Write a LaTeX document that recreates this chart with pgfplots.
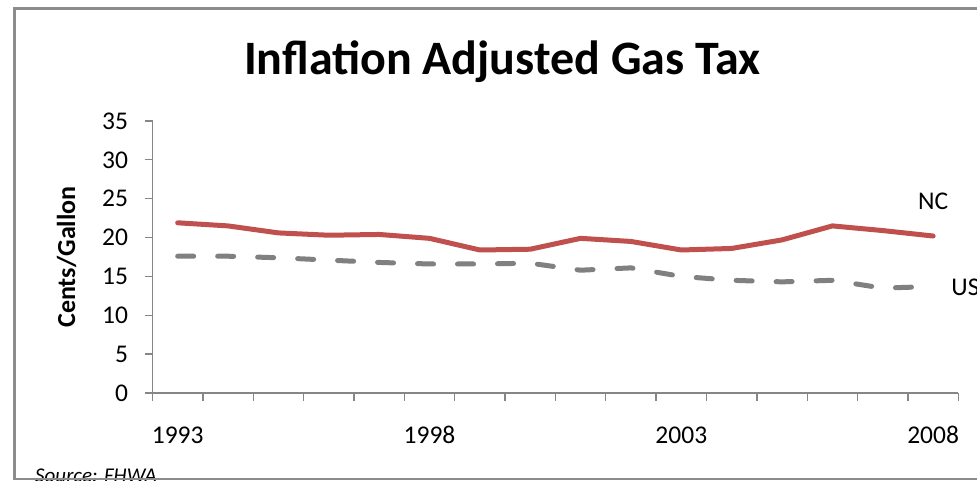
\documentclass[border=0pt]{standalone}
\usepackage{fontspec}
\setmainfont{Carlito}
\usepackage{pgfplots}
\pgfplotsset{compat=1.18}

\definecolor{ncred}{HTML}{C0504D}
\definecolor{usgray}{HTML}{808080}
\definecolor{axgray}{HTML}{868686}
\definecolor{framegray}{HTML}{8C8C8C}
\newcommand\tl{\fontsize{25.5bp}{30bp}\selectfont}

\begin{document}
\begin{tikzpicture}[x=1bp,y=1bp]
\useasboundingbox (0,0) rectangle (977,481);
\begin{axis}[
    at={(152.5bp,88bp)}, anchor=south west,
    scale only axis, width=805.8bp, height=272bp,
    xmin=1992.5, xmax=2008.5,
    ymin=0, ymax=35,
    axis x line=bottom, axis y line=left,
    axis line style={-, draw=axgray, line width=1.3bp},
    xtick={1992.5,1993.5,...,2008.5},
    xticklabels={},
    extra x ticks={1993,1998,2003,2008},
    extra x tick labels={\tl 1993,\tl 1998,\tl 2003,\tl 2008},
    extra x tick style={tick style={draw=none},
        xticklabel style={anchor=north, yshift=-22bp}},
    ytick={0,5,...,35},
    yticklabels={\tl 0,\tl 5,\tl 10,\tl 15,\tl 20,\tl 25,\tl 30,\tl 35},
    yticklabel style={anchor=east, xshift=-13bp},
    tick align=outside,
    major tick length=8bp,
    tick style={draw=axgray, line width=1.3bp},
    clip=false,
]
% NC
\addplot[ncred, line width=5bp, line join=round, line cap=round]
    coordinates {(1993,21.9)(1994,21.5)(1995,20.6)(1996,20.3)(1997,20.4)(1998,19.9)
    (1999,18.4)(2000,18.5)(2001,19.9)(2002,19.5)(2003,18.4)(2004,18.6)
    (2005,19.7)(2006,21.5)(2007,20.9)(2008,20.2)};
% US
\addplot[usgray, line width=5bp, line join=round, line cap=round,
    dash pattern=on 16bp off 24bp]
    coordinates {(1993,17.6)(1994,17.6)(1995,17.4)(1996,17.1)(1997,16.8)(1998,16.6)
    (1999,16.6)(2000,16.7)(2001,15.8)(2002,16.1)(2003,15.0)(2004,14.5)
    (2005,14.3)(2006,14.5)(2007,13.5)(2008,13.7)};

\node[anchor=base, inner sep=0, font=\tl] at (axis cs:2008,23.55) {NC};
\node[anchor=base west, inner sep=0, font=\tl] at (axis cs:2008.36,12.6) {US};
\end{axis}

\node[anchor=base, inner sep=0, font=\fontsize{48bp}{54bp}\selectfont\bfseries]
    at (502.5,406) {Inflation Adjusted Gas Tax};
\node[anchor=base, inner sep=0, rotate=90, font=\fontsize{26bp}{30bp}\selectfont\bfseries]
    at (75,224) {Cents/Gallon};
\node[anchor=base west, inner sep=0, font=\fontsize{21bp}{24bp}\selectfont\itshape]
    at (35,-1.5) {Source: FHWA};
\draw[framegray, line width=2.5bp] (14.5,1.8) rectangle (1000,472.5);
\end{tikzpicture}
\end{document}
